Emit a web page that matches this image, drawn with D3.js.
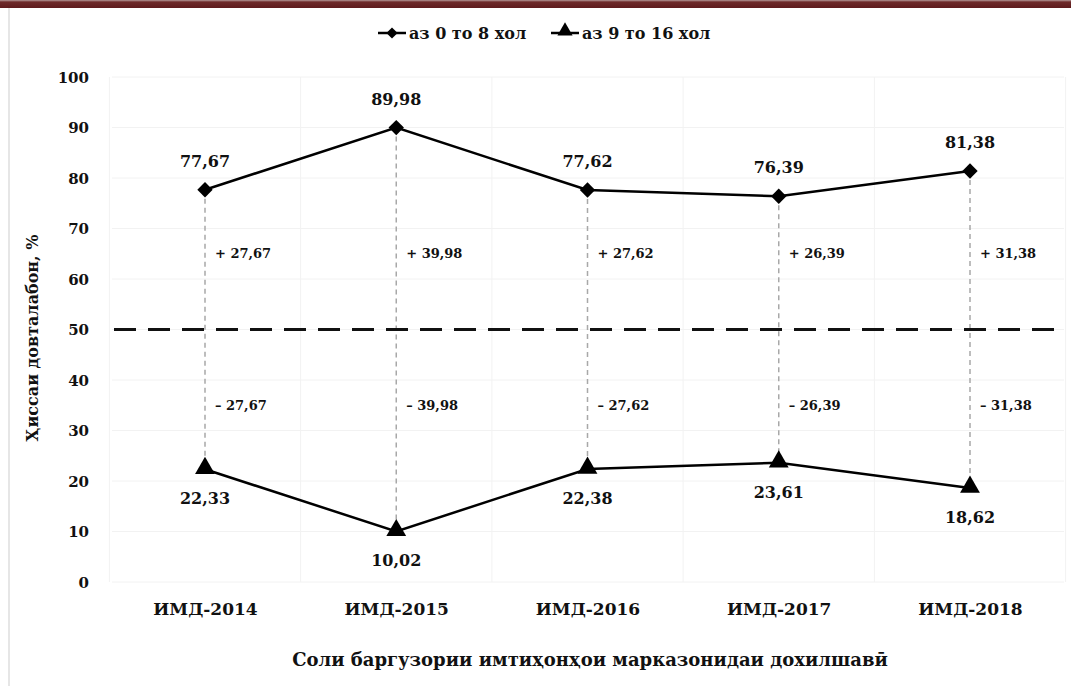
<!DOCTYPE html>
<html><head><meta charset="utf-8">
<script src="https://cdn.jsdelivr.net/npm/d3@7/dist/d3.min.js"></script>
<style>
html,body{margin:0;padding:0;background:#fff;}
svg{display:block;}
text{font-family:"DejaVu Serif","Liberation Serif",serif;font-weight:bold;fill:#111;}
</style></head>
<body>
<script>
const categories = ["ИМД-2014","ИМД-2015","ИМД-2016","ИМД-2017","ИМД-2018"];
const seriesHigh = [77.67, 89.98, 77.62, 76.39, 81.38];
const seriesLow = [22.33, 10.02, 22.38, 23.61, 18.62];
const diffLabels = ["27,67","39,98","27,62","26,39","31,38"];
const highLabels = ["77,67","89,98","77,62","76,39","81,38"];
const lowLabels = ["22,33","10,02","22,38","23,61","18,62"];
const yTicks = [0,10,20,30,40,50,60,70,80,90,100];
const threshold = 50;
const legendNames = ["аз 0 то 8 хол","аз 9 то 16 хол"];
const xTitle = "Соли баргузории имтиҳонҳои марказонидаи дохилшавӣ";
const yTitle = "Ҳиссаи довталабон, %";

const W = 1071, H = 686;
const svg = d3.select("body").append("svg").attr("width", W).attr("height", H);

// top dark band
const defs = svg.append("defs");
const g1 = defs.append("linearGradient").attr("id","band").attr("x1",0).attr("y1",0).attr("x2",0).attr("y2",1);
g1.append("stop").attr("offset","0%").attr("stop-color","#b59a9a");
g1.append("stop").attr("offset","25%").attr("stop-color","#6e2a2a");
g1.append("stop").attr("offset","100%").attr("stop-color","#5e1b1d");
svg.append("rect").attr("x",0).attr("y",0).attr("width",W).attr("height",8).attr("fill","url(#band)");
svg.append("rect").attr("x",8).attr("y",8).attr("width",2).attr("height",H-8).attr("fill","#e6e6e6");

const x = d3.scalePoint().domain(categories).range([205, 970]);
const y = d3.scaleLinear().domain([0,100]).range([582, 77]);

// faint gridlines
svg.append("g").selectAll("line").data(yTicks).join("line")
  .attr("x1",112).attr("x2",1064).attr("y1",d=>y(d)).attr("y2",d=>y(d))
  .attr("stroke","#f2f2f2").attr("stroke-width",1);
const step = x.step();
svg.append("g").selectAll("line").data(d3.range(categories.length+1)).join("line")
  .attr("x1",i=>x(categories[0])-step/2+i*step).attr("x2",i=>x(categories[0])-step/2+i*step)
  .attr("y1",y(100)).attr("y2",y(0)).attr("stroke","#f2f2f2").attr("stroke-width",1);

// y axis
const yAxis = d3.axisLeft(y).tickValues(yTicks).tickSize(0).tickPadding(0);
const ya = svg.append("g").attr("transform","translate(89,0)").call(yAxis);
ya.select(".domain").remove();
ya.selectAll("text").style("font-size","15px").style("font-family","DejaVu Serif").attr("dy","0.35em");

// x axis
const xAxis = d3.axisBottom(x).tickSize(0).tickPadding(0);
const xa = svg.append("g").attr("transform","translate(0,603)").call(xAxis);
xa.select(".domain").remove();
xa.selectAll("text").style("font-size","17px").style("font-family","DejaVu Serif").attr("dy","0.71em");

// titles
svg.append("text").attr("x",590).attr("y",666).attr("text-anchor","middle").style("font-size","18px").text(xTitle);
svg.append("text").attr("transform","translate(38,338) rotate(-90)").attr("text-anchor","middle").style("font-size","16px").text(yTitle);

// vertical connectors
svg.append("g").selectAll("line").data(categories).join("line")
  .attr("x1",d=>x(d)).attr("x2",d=>x(d))
  .attr("y1",(d,i)=>y(seriesHigh[i])).attr("y2",(d,i)=>y(seriesLow[i]))
  .attr("stroke","#a8a8a8").attr("stroke-width",1.5).attr("stroke-dasharray","5,4");

// threshold dashed line
svg.append("line").attr("x1",114).attr("x2",1066).attr("y1",y(threshold)).attr("y2",y(threshold))
  .attr("stroke","#111").attr("stroke-width",3).attr("stroke-dasharray","22,12");

// diff labels
svg.append("g").selectAll("text").data(categories).join("text")
  .attr("x",d=>x(d)+10).attr("y",y(65)).attr("dy","0.35em").style("font-size","13px")
  .text((d,i)=>"+ "+diffLabels[i]);
svg.append("g").selectAll("text").data(categories).join("text")
  .attr("x",d=>x(d)+10).attr("y",y(35)).attr("dy","0.35em").style("font-size","13px")
  .text((d,i)=>"– "+diffLabels[i]);

// lines
const line = d3.line().x((d,i)=>x(categories[i])).y(d=>y(d));
svg.append("path").attr("d",line(seriesHigh)).attr("fill","none").attr("stroke","#000").attr("stroke-width",2.5);
svg.append("path").attr("d",line(seriesLow)).attr("fill","none").attr("stroke","#000").attr("stroke-width",2.5);

const diamond = d3.symbol().type(d3.symbolDiamond2).size(150);
const tri = d3.symbol().type(d3.symbolTriangle).size(170);
svg.append("g").selectAll("path").data(seriesHigh).join("path")
  .attr("transform",(d,i)=>`translate(${x(categories[i])},${y(d)})`).attr("d",diamond).attr("fill","#000");
svg.append("g").selectAll("path").data(seriesLow).join("path")
  .attr("transform",(d,i)=>`translate(${x(categories[i])},${y(d)-1})`).attr("d",tri).attr("fill","#000");

// value labels
svg.append("g").selectAll("text").data(seriesHigh).join("text")
  .attr("x",(d,i)=>x(categories[i])).attr("y",d=>y(d)-23).attr("text-anchor","middle").style("font-size","16px")
  .text((d,i)=>highLabels[i]);
svg.append("g").selectAll("text").data(seriesLow).join("text")
  .attr("x",(d,i)=>x(categories[i])).attr("y",d=>y(d)+35).attr("text-anchor","middle").style("font-size","16px")
  .text((d,i)=>lowLabels[i]);

// legend
const leg = svg.append("g");
const lx = [378, 551];
[0,1].forEach(k=>{
  leg.append("line").attr("x1",lx[k]).attr("x2",lx[k]+28).attr("y1",33).attr("y2",33).attr("stroke","#000").attr("stroke-width",2.5);
  leg.append("path").attr("transform",`translate(${lx[k]+14},${k?31:33})`).attr("d",k? d3.symbol().type(d3.symbolTriangle).size(100)() : d3.symbol().type(d3.symbolDiamond2).size(80)()).attr("fill","#000");
  leg.append("text").attr("x",lx[k]+31).attr("y",33).attr("dy","0.35em").style("font-size","16px").text(legendNames[k]);
});
</script>
</body></html>
